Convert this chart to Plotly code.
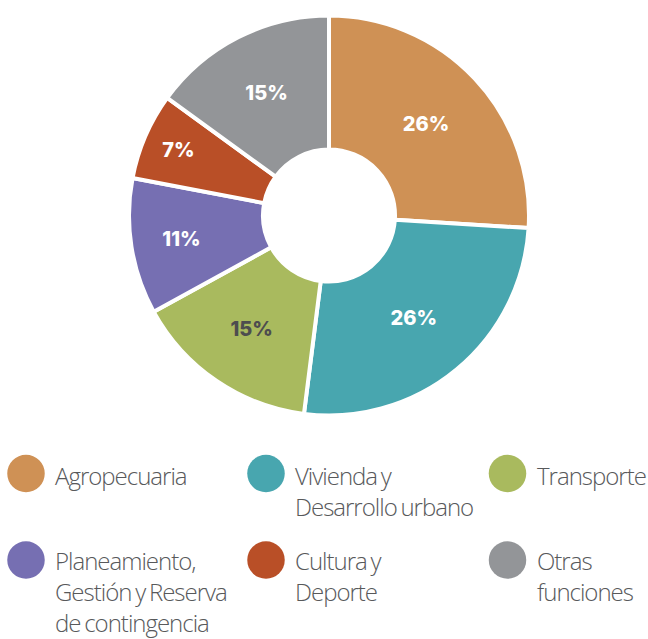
import plotly.graph_objects as go

# Budget share by function (percent), clockwise from 12 o'clock
categories = [
    "Agropecuaria",
    "Vivienda y<br>Desarrollo urbano",
    "Transporte",
    "Planeamiento,<br>Gestión y Reserva<br>de contingencia",
    "Cultura y<br>Deporte",
    "Otras<br>funciones",
]
shares = [26, 26, 15, 11, 7, 15]
colors = ["#CF9155", "#48A6AF", "#A9BA5E", "#766FB2", "#B94F27", "#939598"]
label_colors = ["#FFFFFF", "#FFFFFF", "#4D4D4F", "#FFFFFF", "#FFFFFF", "#FFFFFF"]

W, H = 648, 639


def px_x(x):
    return x / W


def px_y(y):
    return 1 - y / H


def tightened(text):
    # tighter letters and word gaps for each legend line
    return "<br>".join(
        f'<span style="letter-spacing:-1px;word-spacing:-1.5px">{line}</span>'
        for line in text.split("<br>")
    )


cx, cy, r = 329, 215.5, 200

fig = go.Figure(
    go.Pie(
        values=shares,
        labels=[c.replace("<br>", " ") for c in categories],
        sort=False,
        direction="clockwise",
        rotation=0,
        hole=0.33,
        marker=dict(colors=colors, line=dict(color="#FFFFFF", width=4)),
        texttemplate="%{value}%",
        textposition="inside",
        insidetextorientation="horizontal",
        textfont=dict(family="Inter, Lato, Open Sans", size=20, color=label_colors, weight=800),
        hoverinfo="label+percent",
        showlegend=False,
        domain=dict(x=[px_x(cx - r), px_x(cx + r)], y=[px_y(cy + r), px_y(cy - r)]),
    )
)

# Custom legend: three columns, two rows
col_dot_x = [26, 266, 507.5]
col_text_x = [53, 293, 535]
row_dot_y = [473.5, 560]
row_text_top = [457, 542]
dot_d = 37.5

shapes = []
annotations = []
for i, (label, color) in enumerate(zip(categories, colors)):
    row, col = divmod(i, 3)
    x0 = col_dot_x[col] - dot_d / 2
    x1 = col_dot_x[col] + dot_d / 2
    y0 = row_dot_y[row] - dot_d / 2
    y1 = row_dot_y[row] + dot_d / 2
    shapes.append(
        dict(
            type="circle", xref="paper", yref="paper",
            x0=px_x(x0), x1=px_x(x1), y0=px_y(y1), y1=px_y(y0),
            fillcolor=color, line=dict(width=0),
        )
    )
    annotations.append(
        dict(
            text=tightened(label), xref="paper", yref="paper",
            x=px_x(col_text_x[col]), y=px_y(row_text_top[row]),
            xanchor="left", yanchor="top", align="left", showarrow=False,
            font=dict(family="Open Sans", size=24, color="#58595B", weight=300),
        )
    )

fig.update_layout(
    width=W, height=H,
    margin=dict(l=0, r=0, t=0, b=0),
    paper_bgcolor="#FFFFFF", plot_bgcolor="#FFFFFF",
    shapes=shapes, annotations=annotations,
)

fig.write_html("out.html")
